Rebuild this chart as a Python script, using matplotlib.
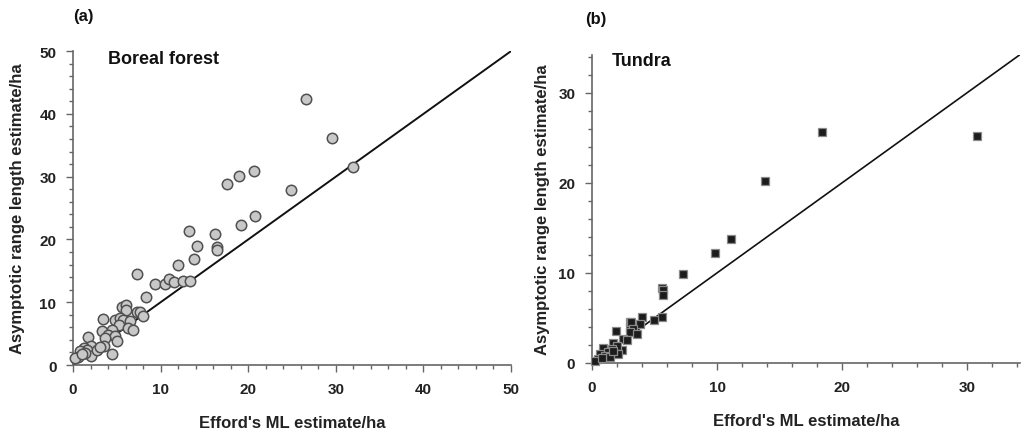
import matplotlib
matplotlib.use("Agg")
import matplotlib.pyplot as plt
from matplotlib.ticker import MultipleLocator

plt.rcParams['font.family'] = ['Liberation Sans', 'DejaVu Sans']
plt.rcParams['font.weight'] = 'bold'

# Boreal forest: (Efford's ML estimate, asymptotic range length estimate), ha
boreal_x = [26.6, 29.6, 32.0, 20.7, 19.0, 17.6, 24.9, 20.8, 19.2, 16.2, 13.2,
            14.1, 16.4, 16.4, 13.8, 12.0, 7.3, 9.35, 10.5, 10.9, 11.5, 12.5,
            13.3, 8.3, 5.55, 6.1, 6.0, 7.3, 7.6, 8.0, 3.4, 4.8, 5.4, 5.7, 6.5,
            5.2, 6.3, 6.9, 4.5, 3.3, 4.0, 4.8, 3.65, 5.0, 3.5, 1.75, 2.1, 1.2,
            1.55, 0.8, 2.1, 4.5, 0.6, 0.2, 2.7, 3.1, 1.4, 1.0]
boreal_y = [42.3, 36.2, 31.5, 30.9, 30.1, 28.8, 27.9, 23.8, 22.3, 20.9, 21.3,
            19.0, 18.8, 18.4, 16.9, 15.9, 14.5, 12.9, 12.9, 13.7, 13.3, 13.4,
            13.4, 10.9, 9.3, 9.5, 8.8, 8.5, 8.4, 7.8, 7.3, 7.1, 7.5, 7.2, 7.0,
            6.4, 5.9, 5.6, 5.5, 5.4, 4.8, 4.6, 4.3, 3.8, 3.1, 4.5, 3.1, 2.7,
            2.4, 2.2, 1.4, 1.8, 1.3, 1.1, 2.4, 2.9, 1.9, 1.7]

# Tundra
tundra_x = [18.4, 30.8, 13.8, 11.1, 9.84, 7.3, 5.6, 5.7, 5.7, 5.6, 4.96, 4.0,
            3.8, 3.04, 3.04, 1.95, 3.1, 3.3, 3.04, 3.6, 2.45, 2.4, 2.8, 1.7,
            2.0, 0.9, 1.6, 1.3, 0.64, 1.04, 0.5, 0.24, 1.44, 0.78, 2.1, 1.7]
tundra_y = [25.6, 25.2, 20.2, 13.8, 12.2, 9.9, 8.3, 8.15, 7.5, 5.15, 4.8, 5.1,
            4.3, 4.5, 3.9, 3.6, 4.5, 3.8, 3.4, 3.2, 2.7, 1.4, 2.5, 2.2, 1.9,
            1.7, 1.55, 1.2, 1.0, 0.8, 0.44, 0.26, 0.63, 0.52, 1.0, 1.37]

fig = plt.figure(figsize=(10.23, 4.31), dpi=100)
ax1 = fig.add_axes([0.0714, 0.1508, 0.4281, 0.7282])
ax2 = fig.add_axes([0.5787, 0.1555, 0.4179, 0.7146])

spine_col = '#666666'
for ax in (ax1, ax2):
    for side in ('top', 'right'):
        ax.spines[side].set_visible(False)
    for side in ('left', 'bottom'):
        ax.spines[side].set_color(spine_col)
        ax.spines[side].set_linewidth(1.2)
    ax.tick_params(which='both', direction='out', colors=spine_col,
                   labelcolor='#222222', labelsize=11, width=1)
    ax.tick_params(which='major', length=5, pad=7)
    ax.tick_params(which='minor', length=3)
    ax.xaxis.set_major_locator(MultipleLocator(10))
    ax.yaxis.set_major_locator(MultipleLocator(10))
    ax.xaxis.set_minor_locator(MultipleLocator(2))
    ax.yaxis.set_minor_locator(MultipleLocator(2))
    for lab in ax.get_xticklabels() + ax.get_yticklabels():
        lab.set_fontweight('bold')
    ax.set_xlabel("Efford's ML estimate/ha", fontsize=12, fontweight='bold',
                  color='#222222', labelpad=14)

ax1.set_ylabel('Asymptotic range length estimate/ha', fontsize=12,
               fontweight='bold', color='#222222', labelpad=10)
ax2.set_ylabel('Asymptotic range length estimate/ha', fontsize=12,
               fontweight='bold', color='#222222', labelpad=6)

# (a) Boreal forest
ax1.set_xlim(0, 50)
ax1.set_ylim(0, 50)
ax1.plot([0, 50], [0, 50], color='#111111', lw=1.4, zorder=2)
ax1.plot(boreal_x, boreal_y, 'o', ms=7.5, mfc='#c8c8c8', mec='#505050',
         mew=1.1, zorder=3, clip_on=False)
ax1.text(0.08, 0.962, 'Boreal forest', transform=ax1.transAxes,
         fontsize=13, fontweight='bold', va='baseline', color='#111111')
ax1.text(0.0, 1.115, '(a)', transform=ax1.transAxes, fontsize=12,
         fontweight='bold', va='center', ha='left', color='#111111')

# (b) Tundra
ax2.set_xlim(0, 34.2)
ax2.set_ylim(0, 34.2)
ax2.plot([0, 34.2], [0, 34.2], color='#111111', lw=1.2, zorder=2)
ax2.plot(tundra_x, tundra_y, 's', ms=6.3, mfc='#1c1c1c', mec='#8a8a8a',
         mew=0.9, zorder=3, clip_on=False)
ax2.text(0.047, 0.968, 'Tundra', transform=ax2.transAxes,
         fontsize=13, fontweight='bold', va='baseline', color='#111111')
ax2.text(-0.016, 1.12, '(b)', transform=ax2.transAxes, fontsize=12,
         fontweight='bold', va='center', ha='left', color='#111111')

fig.savefig('out.png', dpi=100)
